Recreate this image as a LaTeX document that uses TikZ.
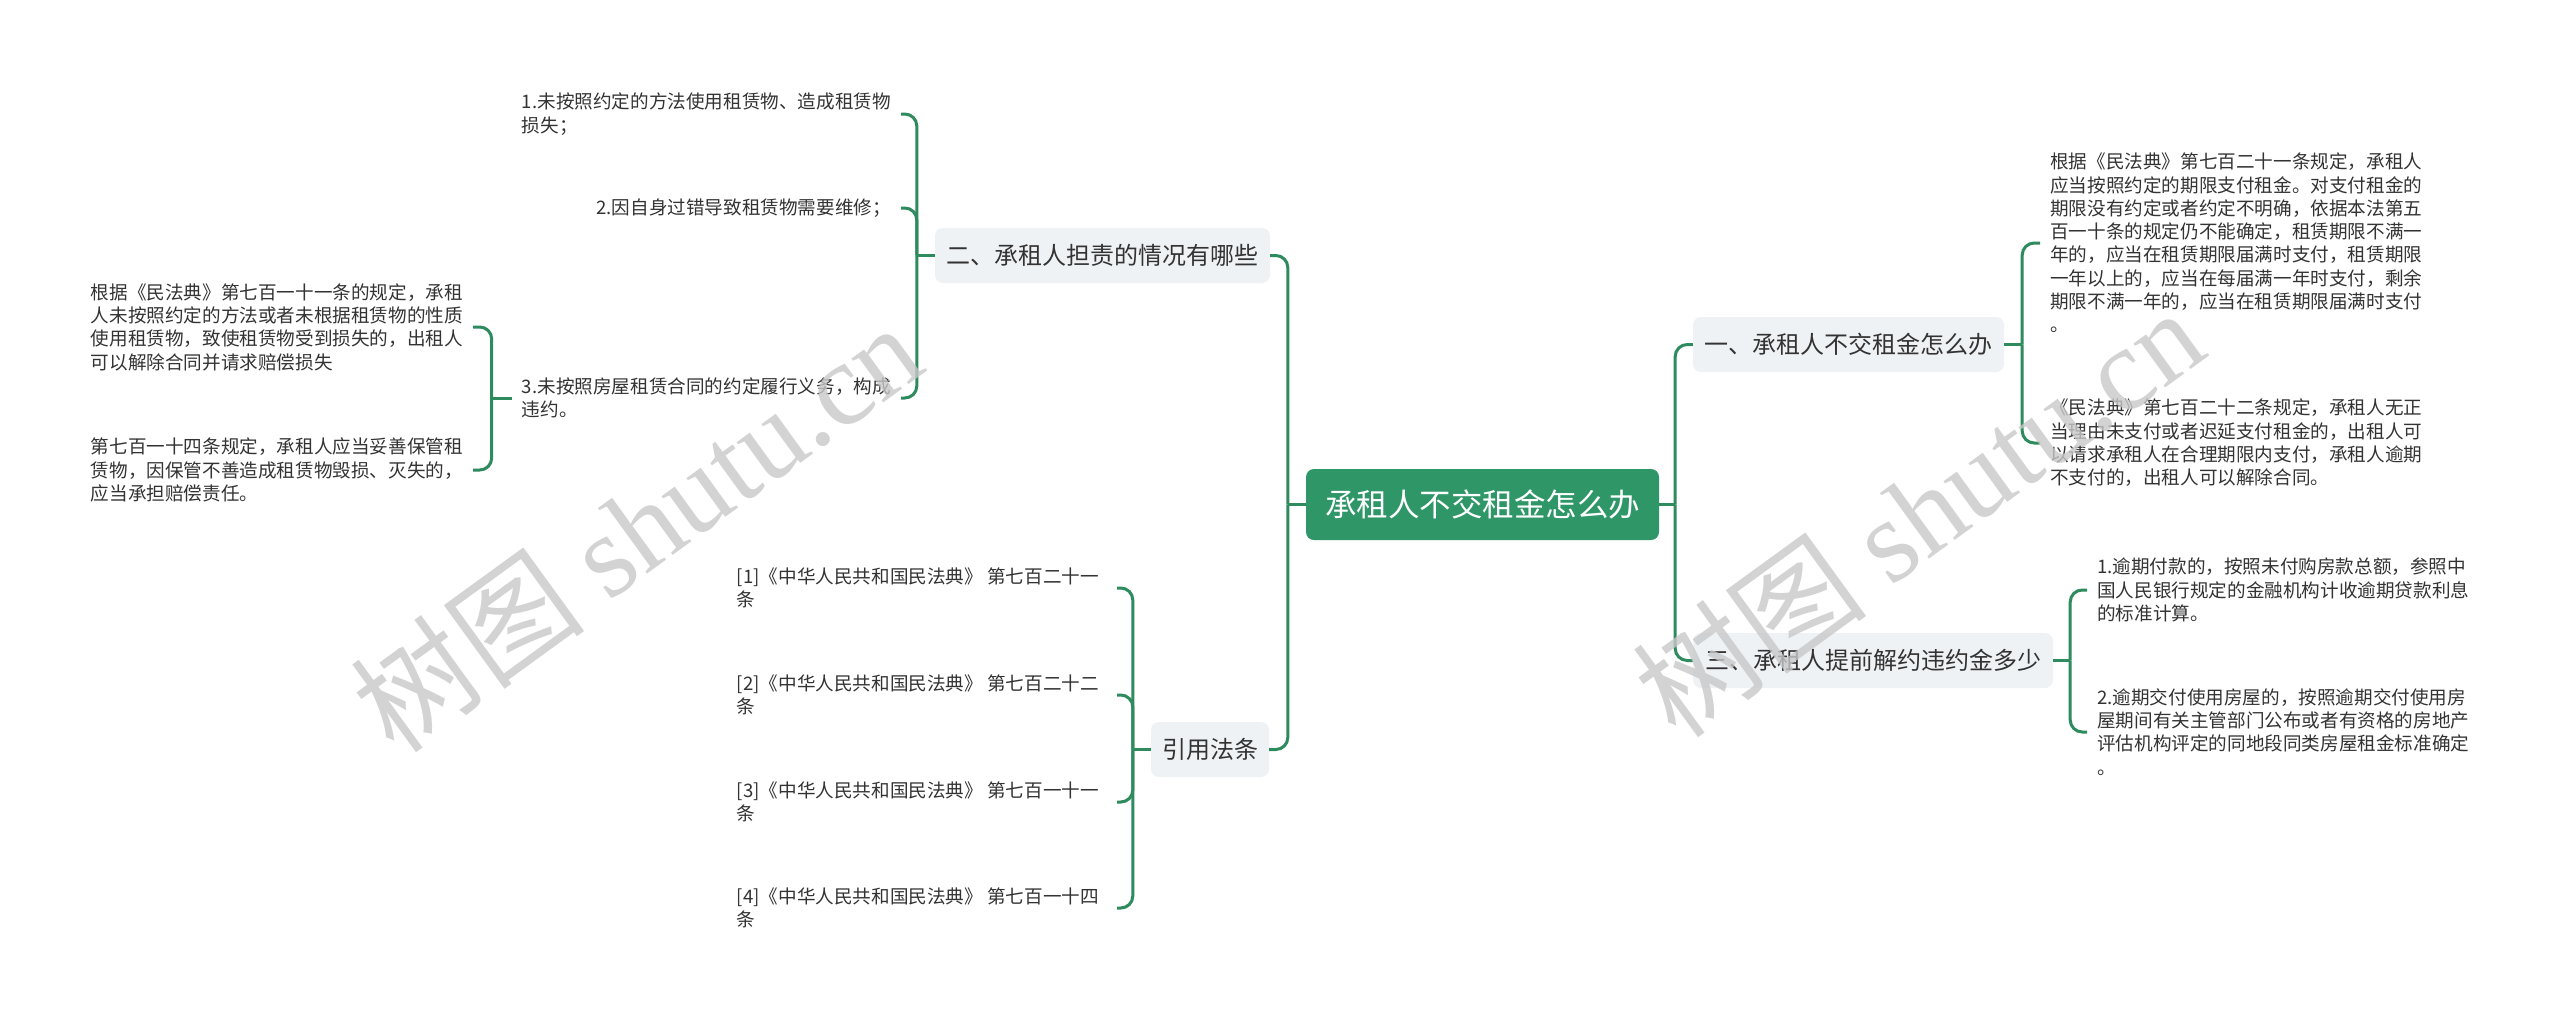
\documentclass[tikz,border=0pt]{standalone}
\usepackage{fontspec}
\setmainfont{Noto Sans CJK SC}
\newfontfamily\wmserif{Liberation Serif}
\usetikzlibrary{calc}
\definecolor{linegreen}{HTML}{2E8B5E}
\definecolor{rootgreen}{HTML}{2E9667}
\definecolor{secfill}{HTML}{EFF2F5}
\definecolor{txt}{HTML}{333333}
\definecolor{wm}{HTML}{C8C8C8}
\begin{document}
\begin{tikzpicture}[x=1pt,y=-1pt,
  conn/.style={draw=linegreen,line width=3pt,rounded corners=12pt},
  tick/.style={draw=linegreen,line width=3pt},
  leaf/.style={inner xsep=10pt,inner ysep=0pt,align=left,text=txt,font=\fontsize{18.6}{23.3}\selectfont},
  cite/.style={leaf,inner xsep=18pt},
  sec/.style={fill=secfill,rounded corners=8pt,text=txt,font=\fontsize{24}{30}\selectfont,minimum height=55pt,inner sep=0pt},
  root/.style={fill=rootgreen,rounded corners=8pt,text=white,font=\fontsize{31.5}{38}\selectfont,minimum width=353pt,minimum height=71pt,inner sep=0pt},
  wmark/.style={text=wm,opacity=0.8,rotate=36,font=\fontsize{118}{124}\selectfont}
]
\fill[white] (0,0) rectangle (2560,1023);
\useasboundingbox (0,0) rectangle (2560,1023);

% main nodes
\node[root] (root) at (1482.5,504.5) {承租人不交租金怎么办};
\node[sec,minimum width=311pt] (b1) at (1848.5,344.5) {一、承租人不交租金怎么办};
\node[sec,minimum width=360pt] (b3) at (1873,660.5) {三、承租人提前解约违约金多少};
\node[sec,minimum width=335pt] (b2) at (1102.5,255.5) {二、承租人担责的情况有哪些};
\node[sec,minimum width=118pt] (b4) at (1210,749.5) {引用法条};

% right leaves
\node[leaf,anchor=west] (r1a) at (2040,243) {根据《民法典》第七百二十一条规定，承租人\\应当按照约定的期限支付租金。对支付租金的\\期限没有约定或者约定不明确，依据本法第五\\百一十条的规定仍不能确定，租赁期限不满一\\年的，应当在租赁期限届满时支付，租赁期限\\一年以上的，应当在每届满一年时支付，剩余\\期限不满一年的，应当在租赁期限届满时支付\\。};
\node[leaf,anchor=west] (r1b) at (2040,443) {《民法典》第七百二十二条规定，承租人无正\\当理由未支付或者迟延支付租金的，出租人可\\以请求承租人在合理期限内支付，承租人逾期\\不支付的，出租人可以解除合同。};
\node[leaf,anchor=west] (r3a) at (2087,590) {1.逾期付款的，按照未付购房款总额，参照中\\国人民银行规定的金融机构计收逾期贷款利息\\的标准计算。};
\node[leaf,anchor=west] (r3b) at (2087,732) {2.逾期交付使用房屋的，按照逾期交付使用房\\屋期间有关主管部门公布或者有资格的房地产\\评估机构评定的同地段同类房屋租金标准确定\\。};

% left leaves
\node[leaf,anchor=east] (l1) at (901,114) {1.未按照约定的方法使用租赁物、造成租赁物\\损失；};
\node[leaf,anchor=east] (l2) at (901,208) {2.因自身过错导致租赁物需要维修；};
\node[leaf,anchor=east] (l3) at (901,398) {3.未按照房屋租赁合同的约定履行义务，构成\\违约。};
\node[leaf,anchor=east] (ll1) at (473,327) {根据《民法典》第七百一十一条的规定，承租\\人未按照约定的方法或者未根据租赁物的性质\\使用租赁物，致使租赁物受到损失的，出租人\\可以解除合同并请求赔偿损失};
\node[leaf,anchor=east] (ll2) at (473,470) {第七百一十四条规定，承租人应当妥善保管租\\赁物，因保管不善造成租赁物毁损、灭失的，\\应当承担赔偿责任。};
\node[cite,anchor=east] (c1) at (1117,588) {[1]《中华人民共和国民法典》 第七百二十一\\条};
\node[cite,anchor=east] (c2) at (1117,695) {[2]《中华人民共和国民法典》 第七百二十二\\条};
\node[cite,anchor=east] (c3) at (1117,802) {[3]《中华人民共和国民法典》 第七百一十一\\条};
\node[cite,anchor=east] (c4) at (1117,908) {[4]《中华人民共和国民法典》 第七百一十四\\条};

% connectors: root
\draw[tick] (root.east) -- ++(16,0) coordinate (rj);
\draw[conn] (rj) |- (b1.west);
\draw[conn] (rj) |- (b3.west);
\draw[tick] (root.west) -- ++(-18,0) coordinate (lj);
\draw[conn] (lj) |- (b2.east);
\draw[conn] (lj) |- (b4.east);

% b1
\draw[tick] (b1.east) -- ++(18,0) coordinate (b1j);
\draw[conn] (b1j) |- (r1a.west);
\draw[conn] (b1j) |- (r1b.west);
% b3
\draw[tick] (b3.east) -- ++(17,0) coordinate (b3j);
\draw[conn] (b3j) |- (r3a.west);
\draw[conn] (b3j) |- (r3b.west);
% b2
\draw[tick] (b2.west) -- ++(-18,0) coordinate (b2j);
\draw[conn] (b2j) |- (l1.east);
\draw[conn] (b2j) |- (l2.east);
\draw[conn] (b2j) |- (l3.east);
% l3
\draw[tick] (l3.west) -- ++(-20,0) coordinate (l3j);
\draw[conn] (l3j) |- (ll1.east);
\draw[conn] (l3j) |- (ll2.east);
% b4
\draw[tick] (b4.west) -- ++(-18,0) coordinate (b4j);
\draw[conn] (b4j) |- (c1.east);
\draw[conn] (b4j) |- (c2.east);
\draw[conn] (b4j) |- (c3.east);
\draw[conn] (b4j) |- (c4.east);

% watermarks
\node[wmark] (wm1) at (636,527) {树图 {\wmserif shutu.cn}};
\node[wmark] (wm2) at (1918,512) {树图 {\wmserif shutu.cn}};
\end{tikzpicture}
\end{document}
